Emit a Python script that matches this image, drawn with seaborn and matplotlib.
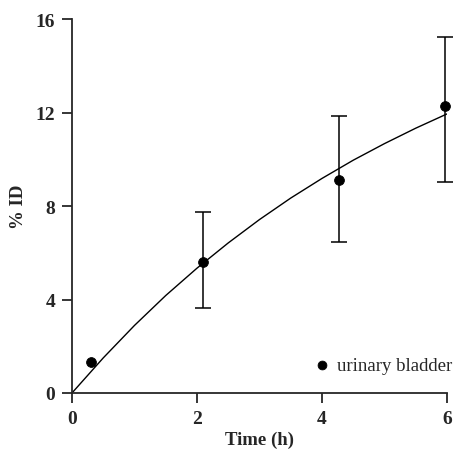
import numpy as np
import pandas as pd
import matplotlib
matplotlib.use('Agg')
import matplotlib.pyplot as plt
import seaborn as sns

# datos medidos (% ID en vejiga)
time_h = [0.30, 2.10, 4.27, 5.97]
pct_id = [1.31, 5.62, 9.13, 12.27]
err_lo = [np.nan, 2.00, 2.67, 3.24]
err_hi = [np.nan, 2.14, 2.73, 2.96]

# curva ajustada
curve_t = [0, 0.5, 1, 1.5, 2, 2.5, 3, 3.5, 4, 4.5, 5, 5.5, 6]
curve_y = [0, 1.50, 2.89, 4.17, 5.34, 6.42, 7.42, 8.34, 9.18, 9.96, 10.67, 11.33, 11.94]

x_ticks = [0, 2, 4, 6]
y_ticks = [0, 4, 8, 12, 16]

sns.set_style('ticks')
plt.rcParams['font.family'] = ['Liberation Serif', 'DejaVu Serif']

fig = plt.figure(figsize=(4.57, 4.56), dpi=100)
ax = fig.add_axes([0.1575, 0.136, 0.8205, 0.820])

curve = pd.DataFrame({'t': curve_t, 'y': curve_y})
sns.lineplot(data=curve, x='t', y='y', color='black', lw=1.0, ax=ax)

# barras de error (el primer punto no tiene)
ax.errorbar(time_h[1:], pct_id[1:], yerr=[err_lo[1:], err_hi[1:]], fmt='none',
            ecolor='black', elinewidth=1.1, capsize=6, capthick=1.1, clip_on=False)
pts = pd.DataFrame({'t': time_h, 'y': pct_id})
sns.scatterplot(data=pts, x='t', y='y', color='black', s=50,
                edgecolor='black', label='urinary bladder', ax=ax,
                zorder=5, clip_on=False)

ax.set_xlim(0, 6)
ax.set_ylim(0, 16)
ax.set_xticks(x_ticks)
ax.set_yticks(y_ticks)
ax.tick_params(length=7, width=1.3, labelsize=14, pad=5)
for lab in ax.get_xticklabels() + ax.get_yticklabels():
    lab.set_fontweight('bold')
for s in ['left', 'bottom']:
    ax.spines[s].set_linewidth(1.3)
sns.despine(ax=ax)

ax.set_xlabel('Time (h)', fontweight='bold', fontsize=13.5, labelpad=3)
ax.set_ylabel('% ID', fontweight='bold', fontsize=13.5, labelpad=6)

ax.legend(loc='center left', bbox_to_anchor=(0.648, 0.075), frameon=False,
          fontsize=13.5, handlelength=0.8, handletextpad=0.4, borderpad=0,
          borderaxespad=0, markerscale=0.9)

fig.savefig('out.png', dpi=100)
